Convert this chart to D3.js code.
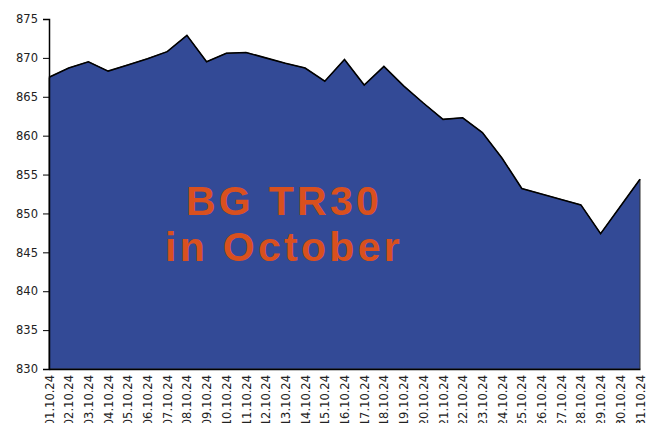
<!DOCTYPE html>
<html>
<head>
<meta charset="utf-8">
<script src="https://cdn.jsdelivr.net/npm/d3@7"></script>
<style>
  body { margin: 0; background: #fff; }
  .axis text { font-family: "DejaVu Sans", sans-serif; font-size: 11.5px; fill: #222; }
  .axis path, .axis line { stroke: #000; }
</style>
</head>
<body>
<div id="chart"></div>
<script>
var dates = ["01.10.24","02.10.24","03.10.24","04.10.24","05.10.24","06.10.24","07.10.24","08.10.24",
    "09.10.24","10.10.24","11.10.24","12.10.24","13.10.24","14.10.24","15.10.24","16.10.24",
    "17.10.24","18.10.24","19.10.24","20.10.24","21.10.24","22.10.24","23.10.24","24.10.24",
    "25.10.24","26.10.24","27.10.24","28.10.24","29.10.24","30.10.24","31.10.24"];
var values = [867.5, 868.7, 869.5, 868.3, 869.1, 869.9, 870.8, 872.9,
    869.5, 870.6, 870.7, 870.0, 869.3, 868.7, 867.0, 869.8,
    866.5, 868.9, 866.4, 864.2, 862.1, 862.3, 860.4, 857.1,
    853.2, 852.5, 851.8, 851.1, 847.4, 850.9, 854.4];
var yTicks = [830, 835, 840, 845, 850, 855, 860, 865, 870, 875];
var titleLines = ["BG TR30", "in October"];

var margin = {top: 19, right: 15, bottom: 54, left: 49},
    width = 655 - margin.left - margin.right,
    height = 423 - margin.top - margin.bottom;

var svg = d3.select("#chart").append("svg")
    .attr("width", 655)
    .attr("height", 423)
    .append("g")
    .attr("transform", "translate(" + margin.left + "," + margin.top + ")");

var xScale = d3.scalePoint()
    .domain(dates)
    .range([0, width]);
var yScale = d3.scaleLinear()
    .domain([830, 875])
    .range([height, 0]);

var data = dates.map(function(d, i){ return {date: d, value: values[i]}; });

var area = d3.area()
    .x(function(d){ return xScale(d.date); })
    .y0(height)
    .y1(function(d){ return yScale(d.value); });

var line = d3.line()
    .x(function(d){ return xScale(d.date); })
    .y(function(d){ return yScale(d.value); });

svg.append("path")
    .datum(data)
    .attr("d", area)
    .attr("fill", "#334a96")
    .attr("stroke", "#333")
    .attr("stroke-width", 1);

svg.append("path")
    .datum(data)
    .attr("d", line)
    .attr("fill", "none")
    .attr("stroke", "#000")
    .attr("stroke-width", 1.6);

// title inside the area
svg.append("text")
    .attr("x", 234)
    .attr("y", 196)
    .attr("text-anchor", "middle")
    .style("font-family", "'Liberation Sans', Arial, sans-serif")
    .style("font-weight", "bold")
    .style("font-size", "41px")
    .style("letter-spacing", "3.3px")
    .attr("fill", "#d9501e")
    .selectAll("tspan")
    .data(titleLines)
    .enter().append("tspan")
    .attr("x", 235)
    .attr("dy", function(d, i){ return i === 0 ? 0 : 46; })
    .text(function(d){ return d; });

var yAxis = svg.append("g")
    .attr("class", "y axis")
    .call(d3.axisLeft(yScale).tickValues(yTicks).tickSize(6).tickPadding(5));
yAxis.select(".domain").attr("stroke-width", 1.5);

var xAxis = svg.append("g")
    .attr("class", "x axis")
    .attr("transform", "translate(0," + height + ")")
    .call(d3.axisBottom(xScale).tickSize(0).tickPadding(0));
xAxis.select(".domain").attr("stroke-width", 1.5);
xAxis.selectAll("text")
    .attr("transform", "rotate(-90)")
    .attr("text-anchor", "end")
    .attr("x", -6)
    .attr("y", 0)
    .attr("dy", "0.35em");
</script>
</body>
</html>
